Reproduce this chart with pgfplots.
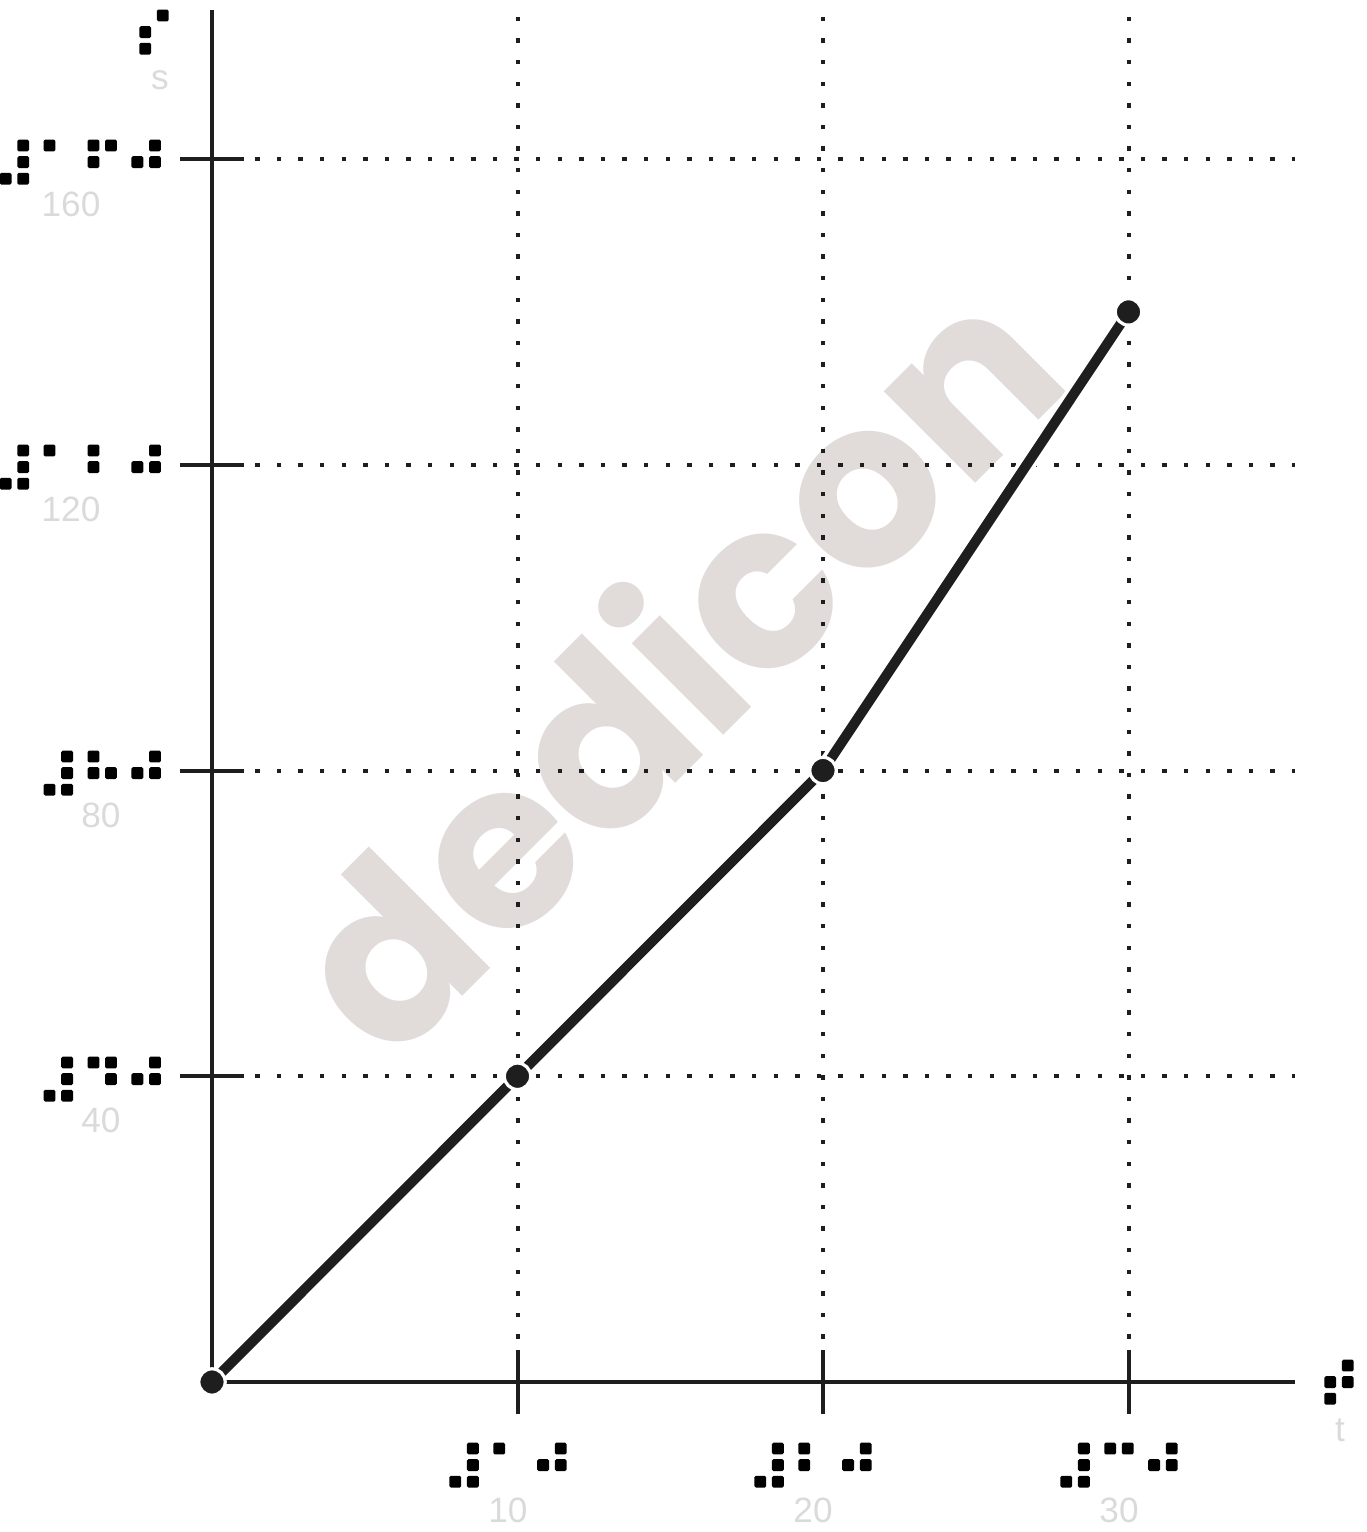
\documentclass[border=0pt]{standalone}
\usepackage{fontspec}
\setmainfont{Liberation Sans}
\newfontfamily\brl{DejaVu Sans}[FakeBold=5]
\newfontfamily\wmfont{Poppins}
\usepackage{pgfplots}
\pgfplotsset{compat=1.18}
\definecolor{ink}{RGB}{30,30,30}
\definecolor{lbl}{RGB}{218,218,218}
\definecolor{wm}{RGB}{225,220,218}
\newcommand{\bl}[1]{{\brl\fontsize{15}{15}\selectfont #1}}
\newcommand{\nm}[1]{{\color{lbl}\fontsize{8.8}{9}\selectfont #1}}
\begin{document}
\begin{tikzpicture}
% pixel frame of the reference: x right, y down
\begin{scope}[x=0.25pt,y=-0.25pt,shift={(-53pt,345.5pt)}]
  \node[rotate=45, text=wm, font=\wmfont\bfseries\fontsize{58}{58}\selectfont] at (668,661) {dedicon};
\end{scope}
\begin{axis}[
    scale only axis,
    width=270.75pt, height=343pt,
    xmin=0, xmax=35.45,
    ymin=0, ymax=179.5,
    axis x line=bottom, axis y line=left,
    axis line style={ink, line width=1pt, -},
    xtick={10,20,30}, ytick={40,80,120,160},
    xticklabels={}, yticklabels={},
    tick align=center,
    major tick length=16pt,
    tick style={ink, line width=1pt},
    grid=major,
    major grid style={ink, line width=1pt, dash pattern=on 1.1pt off 4.3pt},
    clip=false
]
\addplot[white, line width=4.4pt, forget plot] coordinates {(0,0)(10,40)(20,80)(30,140)};
\addplot[ink, line width=2.5pt, line join=round, mark=*, mark size=3.3pt,
    mark options={fill=ink, draw=white, line width=0.8pt}]
    coordinates {(0,0)(10,40)(20,80)(30,140)};
\end{axis}
\begin{scope}[x=0.25pt,y=-0.25pt,shift={(-53pt,345.5pt)}, line join=round, line cap=round]
  % y tick labels
  \node[anchor=base east, inner sep=0] at (169,188) {\bl{⠼⠁⠋⠚}};
  \node[anchor=base east, inner sep=0] at (169,493) {\bl{⠼⠁⠃⠚}};
  \node[anchor=base east, inner sep=0] at (169,799) {\bl{⠼⠓⠚}};
  \node[anchor=base east, inner sep=0] at (169,1105) {\bl{⠼⠙⠚}};
  \node[anchor=base, inner sep=0] at (71,217) {\nm{160}};
  \node[anchor=base, inner sep=0] at (71,522) {\nm{120}};
  \node[anchor=base, inner sep=0] at (101,828) {\nm{80}};
  \node[anchor=base, inner sep=0] at (101,1133) {\nm{40}};
  % x tick labels
  \node[anchor=base, inner sep=0] at (508,1491) {\bl{⠼⠁⠚}};
  \node[anchor=base, inner sep=0] at (813,1491) {\bl{⠼⠃⠚}};
  \node[anchor=base, inner sep=0] at (1119,1491) {\bl{⠼⠉⠚}};
  \node[anchor=base, inner sep=0] at (508,1522) {\nm{10}};
  \node[anchor=base, inner sep=0] at (813,1522) {\nm{20}};
  \node[anchor=base, inner sep=0] at (1119,1522) {\nm{30}};
  % axis labels
  \node[anchor=base, inner sep=0] at (1339,1408) {\bl{⠞}};
  \node[anchor=base, inner sep=0] at (1340,1441) {\nm{t}};
  \node[anchor=base, inner sep=0] at (154,58) {\bl{⠎}};
  \node[anchor=base, inner sep=0] at (160,90) {\nm{s}};
  \pgfresetboundingbox
  \path[use as bounding box] (0,0) rectangle (1367,1532);
\end{scope}
\end{tikzpicture}
\end{document}
